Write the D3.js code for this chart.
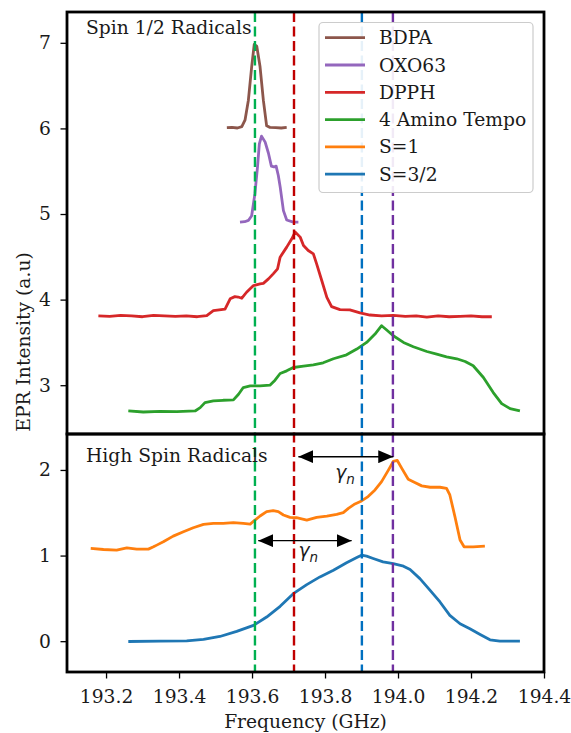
<!DOCTYPE html>
<html>
<head>
<meta charset="utf-8">
<script src="https://cdn.jsdelivr.net/npm/d3@7"></script>
<style>
  body { margin: 0; background: #fff; }
  svg text { font-family: "DejaVu Serif", serif; fill: #1a1a1a; }
</style>
</head>
<body>
<svg id="chart" width="571" height="733"></svg>
<script>
// ---- data (frequency GHz, intensity a.u.) ----
const bdpa = [[193.531,6.01],[193.545,6.012],[193.560,6.005],[193.572,6.02],[193.581,6.10],[193.590,6.33],
  [193.599,6.72],[193.606,6.98],[193.613,6.96],[193.622,6.72],[193.631,6.33],[193.640,6.03],[193.649,6.012],
  [193.665,6.01],[193.680,6.005],[193.695,6.012]];

const oxo63 = [[193.567,4.905],[193.580,4.91],[193.590,4.925],[193.599,4.98],[193.608,5.24],[193.615,5.55],
  [193.620,5.82],[193.626,5.91],[193.636,5.84],[193.645,5.71],[193.653,5.56],[193.660,5.55],[193.666,5.56],
  [193.672,5.45],[193.677,5.32],[193.686,5.04],[193.695,4.93],[193.713,4.905],[193.727,4.905]];

const dpph = [[193.179,3.81],[193.21,3.805],[193.24,3.815],[193.27,3.81],[193.30,3.80],[193.33,3.815],
  [193.36,3.81],[193.39,3.805],[193.42,3.81],[193.45,3.80],[193.476,3.812],[193.494,3.87],[193.510,3.88],
  [193.526,3.89],[193.540,4.01],[193.553,4.035],[193.562,4.03],[193.572,4.016],[193.585,4.086],
  [193.604,4.164],[193.622,4.184],[193.631,4.19],[193.645,4.242],[193.658,4.301],[193.670,4.36],
  [193.677,4.496],[193.695,4.613],[193.709,4.711],[193.718,4.789],[193.732,4.73],[193.741,4.633],
  [193.754,4.574],[193.768,4.535],[193.777,4.418],[193.791,4.223],[193.805,4.027],[193.818,3.918],
  [193.841,3.883],[193.868,3.879],[193.896,3.844],[193.923,3.82],[193.955,3.81],[193.987,3.815],
  [194.02,3.805],[194.05,3.81],[194.079,3.795],[194.11,3.81],[194.14,3.80],[194.170,3.805],
  [194.20,3.81],[194.23,3.80],[194.257,3.80]];

const tempo = [[193.261,2.699],[193.302,2.687],[193.348,2.695],[193.394,2.691],[193.444,2.699],
  [193.458,2.738],[193.471,2.797],[193.494,2.816],[193.521,2.824],[193.549,2.828],[193.563,2.895],
  [193.576,2.973],[193.595,2.992],[193.622,2.992],[193.649,3.0],[193.663,3.059],[193.677,3.137],
  [193.695,3.168],[193.713,3.207],[193.741,3.223],[193.768,3.238],[193.795,3.262],[193.823,3.309],
  [193.859,3.355],[193.887,3.422],[193.914,3.5],[193.937,3.598],[193.955,3.695],[193.969,3.645],
  [193.987,3.578],[194.015,3.5],[194.042,3.449],[194.079,3.394],[194.106,3.363],[194.133,3.332],
  [194.161,3.309],[194.184,3.277],[194.206,3.227],[194.234,3.09],[194.261,2.914],[194.284,2.785],
  [194.307,2.726],[194.334,2.699]];

const spin1 = [[193.158,1.083],[193.193,1.071],[193.229,1.063],[193.257,1.091],[193.284,1.075],
  [193.316,1.075],[193.330,1.102],[193.339,1.122],[193.357,1.161],[193.384,1.227],[193.412,1.278],
  [193.439,1.325],[193.467,1.364],[193.494,1.376],[193.521,1.376],[193.549,1.384],[193.576,1.376],
  [193.595,1.368],[193.608,1.415],[193.622,1.462],[193.640,1.513],[193.658,1.524],[193.672,1.513],
  [193.686,1.474],[193.704,1.446],[193.722,1.442],[193.750,1.415],[193.777,1.446],[193.805,1.462],
  [193.832,1.481],[193.850,1.501],[193.864,1.552],[193.882,1.603],[193.900,1.638],[193.918,1.689],
  [193.937,1.767],[193.955,1.864],[193.974,2.001],[193.987,2.099],[193.998,2.111],[194.010,2.021],
  [194.028,1.892],[194.046,1.853],[194.065,1.814],[194.088,1.798],[194.115,1.798],[194.133,1.786],
  [194.142,1.708],[194.156,1.454],[194.170,1.181],[194.181,1.102],[194.206,1.102],[194.238,1.110]];

const spin32 = [[193.261,-0.004],[193.348,0.0],[193.421,0.004],[193.467,0.02],[193.512,0.055],
  [193.558,0.114],[193.604,0.184],[193.640,0.282],[193.677,0.407],[193.713,0.555],[193.750,0.661],
  [193.786,0.751],[193.823,0.829],[193.859,0.915],[193.887,0.977],[193.900,1.005],[193.914,0.993],
  [193.932,0.966],[193.959,0.927],[193.987,0.907],[194.015,0.876],[194.033,0.837],[194.060,0.731],
  [194.088,0.594],[194.115,0.458],[194.142,0.301],[194.170,0.204],[194.197,0.145],[194.225,0.079],
  [194.252,0.016],[194.279,0.0],[194.334,0.0]];

const seriesNames  = ["BDPA", "OXO63", "DPPH", "4 Amino Tempo", "S=1", "S=3/2"];
const seriesColors = ["#8c564b", "#9467bd", "#d62728", "#2ca02c", "#ff7f0e", "#1f77b4"];

// reference (dashed) frequencies
const refFreqs  = [193.608, 193.715, 193.901, 193.986];
const refColors = ["#00b050", "#c00000", "#0070c0", "#7030a0"];

// gamma_n arrows: [from, to, y] and label [x, y]
const arrows = [[193.727, 193.987, 2.155], [193.617, 193.873, 1.174]];
const arrowLabels = [[193.855, 1.90], [193.754, 0.98]];

const xTicks = [193.2, 193.4, 193.6, 193.8, 194.0, 194.2, 194.4];
const yTicksTop = [3, 4, 5, 6, 7];
const yTicksBot = [0, 1, 2];

// ---- layout ----
const svg = d3.select("#chart");
const padL = 67, padR = 544, padT = 12, padMid = 434, padB = 672;
const fs = "18.7px";

const x = d3.scaleLinear().domain([193.093, 194.4]).range([padL, padR]);
const yTop = d3.scaleLinear().domain([2.43, 7.36]).range([padMid, padT]);
const yBot = d3.scaleLinear().domain([-0.36, 2.42]).range([padB, padMid]);

const defs = svg.append("defs");
defs.append("marker")
  .attr("id", "head")
  .attr("viewBox", "0 0 15 13")
  .attr("refX", 15).attr("refY", 6.5)
  .attr("markerWidth", 15).attr("markerHeight", 13)
  .attr("markerUnits", "userSpaceOnUse")
  .attr("orient", "auto-start-reverse")
  .append("path").attr("d", "M0,0L15,6.5L0,13Z").attr("fill", "#000");

// axes ticks
const gx = svg.append("g").attr("transform", `translate(0,${padB})`)
  .call(d3.axisBottom(x).tickValues(xTicks).tickFormat(d3.format(".1f")).tickSize(6.5).tickPadding(11));
const gyT = svg.append("g").attr("transform", `translate(${padL},0)`)
  .call(d3.axisLeft(yTop).tickValues(yTicksTop).tickFormat(d3.format("d")).tickSize(6.5).tickPadding(9.5));
const gyB = svg.append("g").attr("transform", `translate(${padL},0)`)
  .call(d3.axisLeft(yBot).tickValues(yTicksBot).tickFormat(d3.format("d")).tickSize(6.5).tickPadding(9.5));
[gx, gyT, gyB].forEach(g => {
  g.select(".domain").remove();
  g.selectAll("line").attr("stroke", "#000").attr("stroke-width", 1.3);
  g.selectAll("text").style("font-family", "DejaVu Serif").style("font-size", fs).attr("fill", "#1a1a1a");
});

const line = yScale => d3.line().x(d => x(d[0])).y(d => yScale(d[1]));

// curves
const topData = [bdpa, oxo63, dpph, tempo];
topData.forEach((data, i) => {
  svg.append("path").datum(data)
    .attr("d", line(yTop))
    .attr("fill", "none")
    .attr("stroke", seriesColors[i])
    .attr("stroke-width", 2.8)
    .attr("stroke-linejoin", "round");
});
[spin1, spin32].forEach((data, i) => {
  svg.append("path").datum(data)
    .attr("d", line(yBot))
    .attr("fill", "none")
    .attr("stroke", seriesColors[i + 4])
    .attr("stroke-width", 2.8)
    .attr("stroke-linejoin", "round");
});

// dashed reference lines through both panels
svg.selectAll(".ref")
  .data(refFreqs)
  .enter()
  .append("line")
  .attr("class", "ref")
  .attr("x1", d => x(d)).attr("x2", d => x(d))
  .attr("y1", padT).attr("y2", padB)
  .attr("stroke", (d, i) => refColors[i])
  .attr("stroke-width", 2.4)
  .attr("stroke-dasharray", "10,4.5");

// arrows and gamma labels
svg.selectAll(".arrow")
  .data(arrows)
  .enter()
  .append("line")
  .attr("class", "arrow")
  .attr("x1", d => x(d[0])).attr("x2", d => x(d[1]))
  .attr("y1", d => yBot(d[2])).attr("y2", d => yBot(d[2]))
  .attr("stroke", "#000")
  .attr("stroke-width", 1.4)
  .attr("marker-start", "url(#head)")
  .attr("marker-end", "url(#head)");

arrowLabels.forEach(d => {
  const t = svg.append("text")
    .attr("x", x(d[0])).attr("y", yBot(d[1]))
    .attr("text-anchor", "middle")
    .style("font-size", fs);
  t.append("tspan").text("γ").style("font-family", "DejaVu Sans").style("font-style", "italic");
  t.append("tspan").text("n").attr("dy", 5).style("font-family", "DejaVu Sans")
    .style("font-style", "italic").style("font-size", "13.5px");
});

// panel captions
svg.append("text").attr("x", 86).attr("y", 34).style("font-size", fs).text("Spin 1/2 Radicals");
svg.append("text").attr("x", 86).attr("y", 462).style("font-size", fs).text("High Spin Radicals");

// legend
const legend = svg.append("g");
legend.append("rect")
  .attr("x", 319).attr("y", 22.5).attr("width", 214).attr("height", 170)
  .attr("rx", 4)
  .attr("fill", "#fff").attr("fill-opacity", 0.9)
  .attr("stroke", "#cccccc").attr("stroke-width", 1.2);
seriesNames.forEach((name, i) => {
  const ly = 37.7 + i * 27.3;
  legend.append("line")
    .attr("x1", 325).attr("x2", 365).attr("y1", ly).attr("y2", ly)
    .attr("stroke", seriesColors[i]).attr("stroke-width", 2.8);
  legend.append("text")
    .attr("x", 379).attr("y", ly).attr("dy", "0.35em")
    .style("font-size", fs)
    .text(name);
});

// frames of the two panels
svg.append("rect").attr("x", padL).attr("y", padT).attr("width", padR - padL).attr("height", padMid - padT)
  .attr("fill", "none").attr("stroke", "#000").attr("stroke-width", 2.8);
svg.append("rect").attr("x", padL).attr("y", padMid).attr("width", padR - padL).attr("height", padB - padMid)
  .attr("fill", "none").attr("stroke", "#000").attr("stroke-width", 2.8);

// axis labels
svg.append("text")
  .attr("x", (padL + padR) / 2).attr("y", 728)
  .attr("text-anchor", "middle")
  .style("font-size", fs)
  .text("Frequency (GHz)");
svg.append("text")
  .attr("transform", `translate(30,${(padT + padB) / 2}) rotate(-90)`)
  .attr("text-anchor", "middle")
  .style("font-size", fs)
  .text("EPR Intensity (a.u)");
</script>
</body>
</html>
